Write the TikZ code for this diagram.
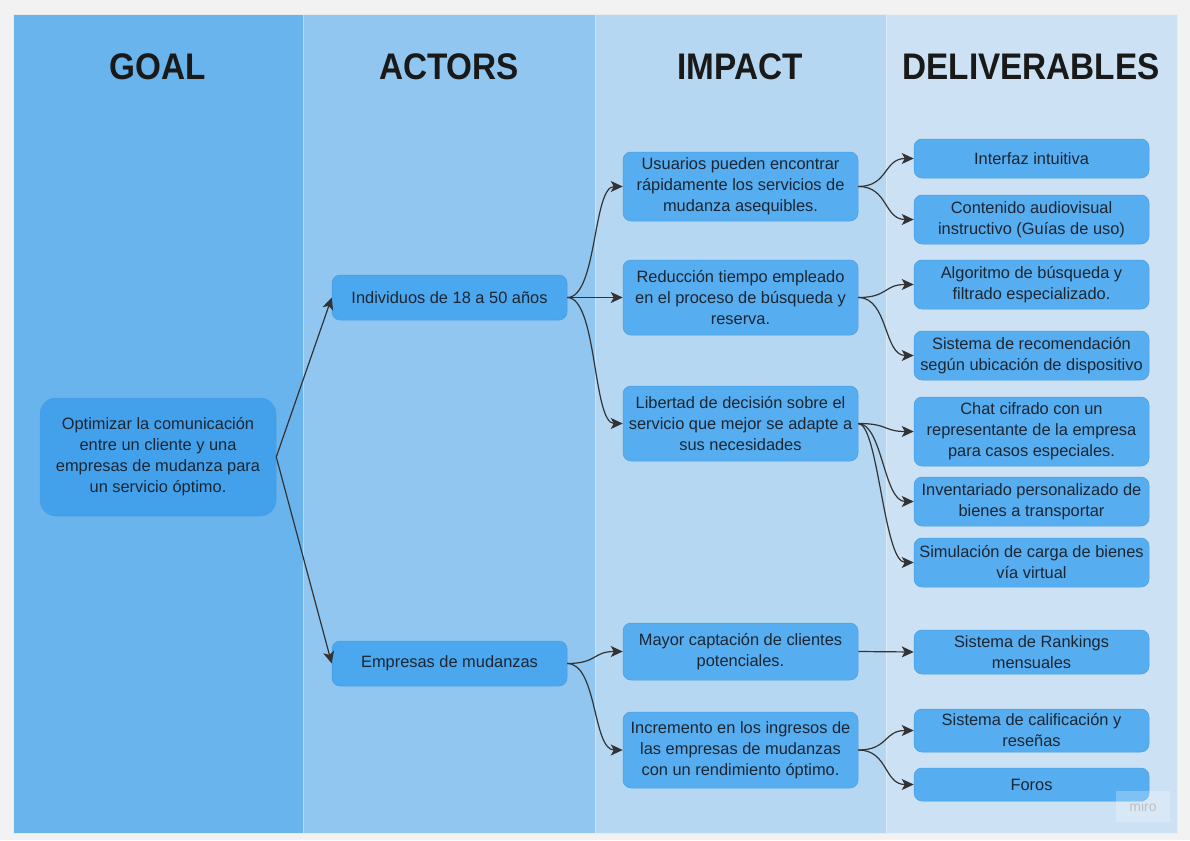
\documentclass[tikz,border=0pt]{standalone}
\usepackage{fontspec}
\setmainfont{Liberation Sans}
\newfontfamily\titlefont[FakeStretch=0.9]{Liberation Sans}
\newfontfamily\bodyfont{Liberation Sans}
\usetikzlibrary{arrows.meta}
\definecolor{bgout}{HTML}{F2F2F2}
\definecolor{colgoal}{HTML}{69B4EC}
\definecolor{colact}{HTML}{90C6EF}
\definecolor{colimp}{HTML}{B5D7F1}
\definecolor{coldel}{HTML}{CCE1F3}
\definecolor{boxgoal}{HTML}{43A1EC}
\definecolor{boxact}{HTML}{4BA7EE}
\definecolor{boxmain}{HTML}{56ADEF}
\definecolor{boxline}{HTML}{4A9EE0}
\definecolor{txt}{HTML}{1C2633}
\definecolor{arr}{HTML}{333333}
\tikzset{
  card/.style={rectangle, rounded corners=8pt, fill=boxmain, draw=boxline, line width=0.5pt,
    minimum width=235pt, align=center, inner sep=0pt,
    font=\bodyfont\fontsize{16.4}{21}\selectfont, text=txt},
  actcard/.style={card, fill=boxact},
  goalcard/.style={card, fill=boxgoal, rounded corners=16pt, minimum width=236pt},
  coltitle/.style={font=\titlefont\bfseries\fontsize{37}{40}\selectfont, text=black!90},
  conn/.style={draw=arr, line width=1.2pt, -{Stealth[length=12pt,width=11pt,inset=3pt]}}
}
\begin{document}
\begin{tikzpicture}[x=1pt,y=-1pt]
\fill[bgout] (0,0) rectangle (1190,840);
\useasboundingbox (0,0) rectangle (1190,840);
% columns
\fill[colgoal] (13,14) rectangle (303,833);
\fill[colact] (303,14) rectangle (595,833);
\fill[colimp] (595,14) rectangle (886,833);
\fill[coldel] (886,14) rectangle (1177,833);
\draw[white, opacity=0.35, line width=1pt] (303,14) -- (303,833) (595,14) -- (595,833) (886,14) -- (886,833);
\draw[black!8, line width=0.6pt] (13,14) rectangle (1177,833);
% titles
\node[coltitle] (tgoal) at (158,67) {GOAL};
\node[coltitle] (tact) at (449,67) {ACTORS};
\node[coltitle] (timp) at (740,67) {IMPACT};
\node[coltitle] (tdel) at (1031,67) {DELIVERABLES};
% goal
\node[goalcard, minimum height=118pt] (goal) at (158,457) {Optimizar la comunicación\\entre un cliente y una\\empresas de mudanza para\\un servicio óptimo.};
% actors
\node[actcard, minimum height=45pt] (ind) at (449.5,297.5) {Individuos de 18 a 50 años};
\node[actcard, minimum height=45pt] (emp) at (449.5,663.5) {Empresas de mudanzas};
% impacts
\node[card, minimum height=69pt] (i1) at (740.5,186.5) {Usuarios pueden encontrar\\rápidamente los servicios de\\mudanza asequibles.};
\node[card, minimum height=75pt] (i2) at (740.5,297.5) {Reducción tiempo empleado\\en el proceso de búsqueda y\\reserva.};
\node[card, minimum height=75pt] (i3) at (740.5,423.5) {Libertad de decisión sobre el\\servicio que mejor se adapte a\\sus necesidades};
\node[card, minimum height=57pt] (i4) at (740.5,651.5) {Mayor captación de clientes\\potenciales.};
\node[card, minimum height=76pt] (i5) at (740.5,750) {Incremento en los ingresos de\\las empresas de mudanzas\\con un rendimiento óptimo.};
% deliverables
\node[card, minimum height=39pt] (d1) at (1031.5,158.5) {Interfaz intuitiva};
\node[card, minimum height=49pt] (d2) at (1031.5,219.5) {Contenido audiovisual\\instructivo (Guías de uso)};
\node[card, minimum height=49pt] (d3) at (1031.5,284.5) {Algoritmo de búsqueda y\\filtrado especializado.};
\node[card, minimum height=49pt] (d4) at (1031.5,355.5) {Sistema de recomendación\\según ubicación de dispositivo};
\node[card, minimum height=69pt] (d5) at (1031.5,431.5) {Chat cifrado con un\\representante de la empresa\\para casos especiales.};
\node[card, minimum height=49pt] (d6) at (1031.5,501.5) {Inventariado personalizado de\\bienes a transportar};
\node[card, minimum height=49pt] (d7) at (1031.5,562.5) {Simulación de carga de bienes\\vía virtual};
\node[card, minimum height=44pt] (d8) at (1031.5,652) {Sistema de Rankings\\mensuales};
\node[card, minimum height=43pt] (d9) at (1031.5,730.5) {Sistema de calificación y\\reseñas};
\node[card, minimum height=33pt] (d10) at (1031.5,784.5) {Foros};
% connectors
\draw[conn] (goal.east) -- (ind.west);
\draw[conn] (goal.east) -- (emp.west);
\draw[conn] (ind.east) .. controls +(30,0) and +(-30,0) .. (i1.west);
\draw[conn] (ind.east) -- (i2.west);
\draw[conn] (ind.east) .. controls +(30,0) and +(-30,0) .. (i3.west);
\draw[conn] (emp.east) .. controls +(30,0) and +(-30,0) .. (i4.west);
\draw[conn] (emp.east) .. controls +(30,0) and +(-30,0) .. (i5.west);
\draw[conn] (i1.east) .. controls +(30,0) and +(-30,0) .. (d1.west);
\draw[conn] (i1.east) .. controls +(30,0) and +(-30,0) .. (d2.west);
\draw[conn] (i2.east) .. controls +(30,0) and +(-30,0) .. (d3.west);
\draw[conn] (i2.east) .. controls +(30,0) and +(-30,0) .. (d4.west);
\draw[conn] (i3.east) .. controls +(30,0) and +(-30,0) .. (d5.west);
\draw[conn] (i3.east) .. controls +(24,0) and +(-30,0) .. (d6.west);
\draw[conn] (i3.east) .. controls +(20,0) and +(-30,0) .. (d7.west);
\draw[conn] (i4.east) -- (d8.west);
\draw[conn] (i5.east) .. controls +(30,0) and +(-30,0) .. (d9.west);
\draw[conn] (i5.east) .. controls +(30,0) and +(-30,0) .. (d10.west);
% watermark
\node[fill=white, fill opacity=0.25, text opacity=1, text=black!25, minimum width=54pt, minimum height=31pt, inner sep=0pt,
  font=\fontsize{14}{16}\selectfont] (miro) at (1143,806) {miro};
\end{tikzpicture}
\end{document}
